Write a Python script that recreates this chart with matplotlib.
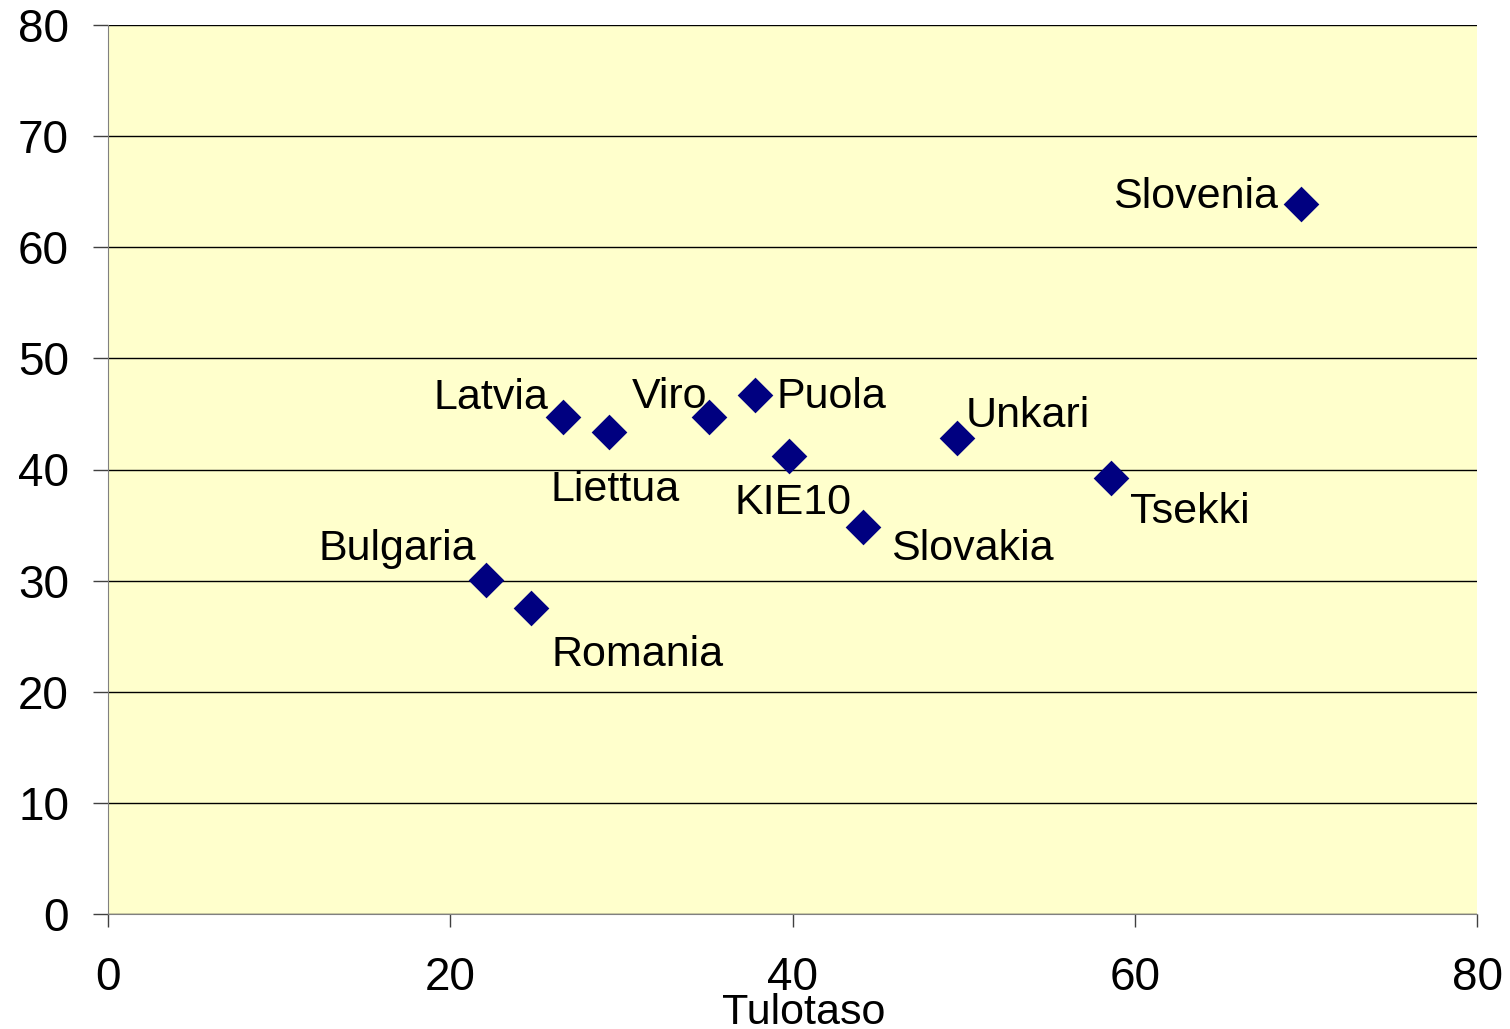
import matplotlib
matplotlib.use("Agg")
import matplotlib.pyplot as plt

plt.rcParams['font.family'] = ['Liberation Sans', 'DejaVu Sans']

countries = ["Slovenia", "Latvia", "Liettua", "Viro", "Puola", "KIE10",
             "Unkari", "Tsekki", "Slovakia", "Bulgaria", "Romania"]
income = [69.7, 26.6, 29.3, 35.1, 37.8, 39.8, 49.6, 58.6, 44.1, 22.1, 24.7]
values = [63.9, 44.7, 43.4, 44.7, 46.7, 41.2, 42.8, 39.2, 34.8, 30.1, 27.5]
# label offsets in pixels (dx, dy) from marker to label centre
label_offsets = [(-105, 11), (-72, 24), (6, -54), (-39, 25), (77, 3), (4, -42),
                 (71, 27), (79, -29), (110, -17), (-89, 35), (107, -42)]
xticks = [0, 20, 40, 60, 80]
yticks = [0, 10, 20, 30, 40, 50, 60, 70, 80]
xlabel = "Tulotaso"

fig = plt.figure(figsize=(15.10, 10.29), dpi=100)
ax = fig.add_axes([108/1510, 1-914/1029, (1477-108)/1510, (914-25)/1029])
ax.set_facecolor('#FFFFCC')
ax.set_xlim(0, 80)
ax.set_ylim(0, 80)
ax.set_xticks(xticks)
ax.set_yticks(yticks)
ax.yaxis.grid(True, color='black', linewidth=1.0)
ax.set_axisbelow(True)
for s in ['top', 'right']:
    ax.spines[s].set_visible(False)
ax.spines['left'].set_color('#808080')
ax.spines['bottom'].set_color('#808080')
ax.tick_params(axis='both', direction='out', width=1, color='#404040',
               labelsize=33)
ax.tick_params(axis='x', length=9, pad=21)
ax.tick_params(axis='y', length=11, pad=17)

ax.scatter(income, values, marker='D', s=330, color='#000080', zorder=3, linewidths=0)

for name, x, y, (dx, dy) in zip(countries, income, values, label_offsets):
    ax.annotate(name, (x, y), xytext=(dx, dy), textcoords='offset pixels',
                ha='center', va='center_baseline', fontsize=31, color='black')

ax.set_xlabel(xlabel, fontsize=31)
ax.xaxis.set_label_coords(0.508, -0.089)

fig.savefig('out.png', dpi=100)
